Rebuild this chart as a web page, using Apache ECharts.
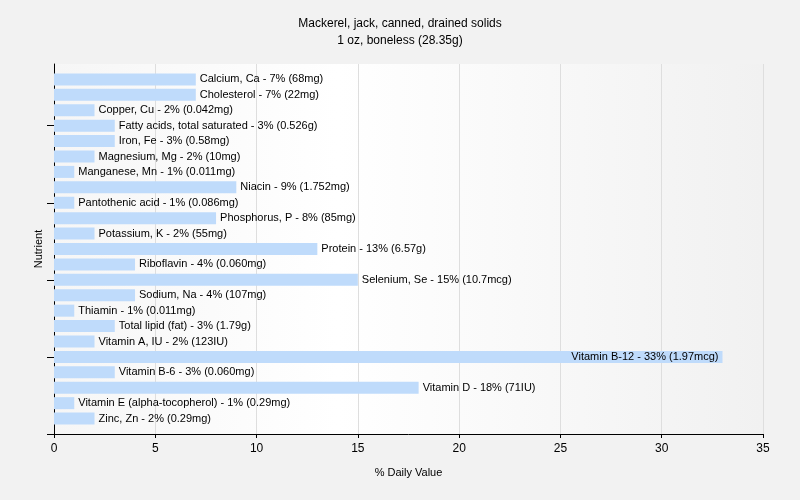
<!DOCTYPE html>
<html><head><meta charset="utf-8">
<script src="https://cdn.jsdelivr.net/npm/echarts@6/dist/echarts.min.js"></script>
<style>html,body{margin:0;padding:0;background:#f2f2f2}#c{width:800px;height:500px}</style>
</head><body><div id="c"></div>
<script>
const nutrients = ["Calcium, Ca","Cholesterol","Copper, Cu","Fatty acids, total saturated","Iron, Fe","Magnesium, Mg","Manganese, Mn","Niacin","Pantothenic acid","Phosphorus, P","Potassium, K","Protein","Riboflavin","Selenium, Se","Sodium, Na","Thiamin","Total lipid (fat)","Vitamin A, IU","Vitamin B-12","Vitamin B-6","Vitamin D","Vitamin E (alpha-tocopherol)","Zinc, Zn"];
const dailyValue = [7,7,2,3,3,2,1,9,1,8,2,13,4,15,4,1,3,2,33,3,18,1,2];
const amounts = ["68mg","22mg","0.042mg","0.526g","0.58mg","10mg","0.011mg","1.752mg","0.086mg","85mg","55mg","6.57g","0.060mg","10.7mcg","107mg","0.011mg","1.79g","123IU","1.97mcg","0.060mg","71IU","0.29mg","0.29mg"];
const xTicks = {min:0, max:35, interval:5};
const yTickStep = 5;

const font = "'Liberation Sans', Arial, sans-serif";
const chart = echarts.init(document.getElementById('c'), null, {renderer:'canvas'});
// pad one empty slot at each end so categories sit at positions 1..N of a 0..N+1 axis
const cats = [''].concat(nutrients, ['']);
const N = cats.length - 1;
const data = [null].concat(dailyValue.map((v,i)=>({
  value:v, amount:amounts[i],
  label: v >= 30 ? {position:'insideRight', distance:4} : {}
})), [null]);
chart.setOption({
  backgroundColor:'#f2f2f2',
  animation:false,
  title:{
    text:'Mackerel, jack, canned, drained solids\n1 oz, boneless (28.35g)',
    left:'center', top:10,
    textStyle:{fontFamily:font,fontSize:12,fontWeight:'normal',color:'#000',lineHeight:17}
  },
  grid:{left:54,right:37,top:64,bottom:66,show:true,borderWidth:0,
    backgroundColor:new echarts.graphic.LinearGradient(0,0,1,0,[
      {offset:0,color:'#f6f6f6'},{offset:0.4,color:'#ffffff'},{offset:1,color:'#f1f1f1'}])},
  xAxis:{
    type:'value', min:xTicks.min, max:xTicks.max, interval:xTicks.interval,
    name:'% Daily Value', nameLocation:'middle', nameGap:33,
    nameTextStyle:{fontFamily:font,fontSize:11,color:'#000'},
    axisLine:{show:true,lineStyle:{color:'#000',width:1}},
    axisTick:{show:true,length:4,lineStyle:{color:'#000'}},
    axisLabel:{fontFamily:font,fontSize:12,color:'#000',margin:9},
    splitLine:{show:true,lineStyle:{color:'#dedede',width:1}}
  },
  yAxis:{
    type:'category', data:cats, inverse:true, boundaryGap:false,
    name:'Nutrient', nameLocation:'middle', nameGap:10, nameRotate:90,
    nameTextStyle:{fontFamily:font,fontSize:11,color:'#000'},
    axisLine:{show:true,lineStyle:{color:'#000',width:1}},
    axisTick:{show:true,length:7,lineStyle:{color:'#000'},
      interval:(idx)=> idx>0 && (N-idx)%yTickStep===0},
    axisLabel:{show:false}, splitLine:{show:false}
  },
  series:[{
    type:'bar', data:data, barWidth:12,
    itemStyle:{color:'#bfdbfb'},
    label:{show:true, position:'right', distance:4, fontFamily:font, fontSize:11, color:'#000',
      formatter:p=>p.name+' - '+p.value+'% ('+p.data.amount+')'}
  }]
});
</script></body></html>
